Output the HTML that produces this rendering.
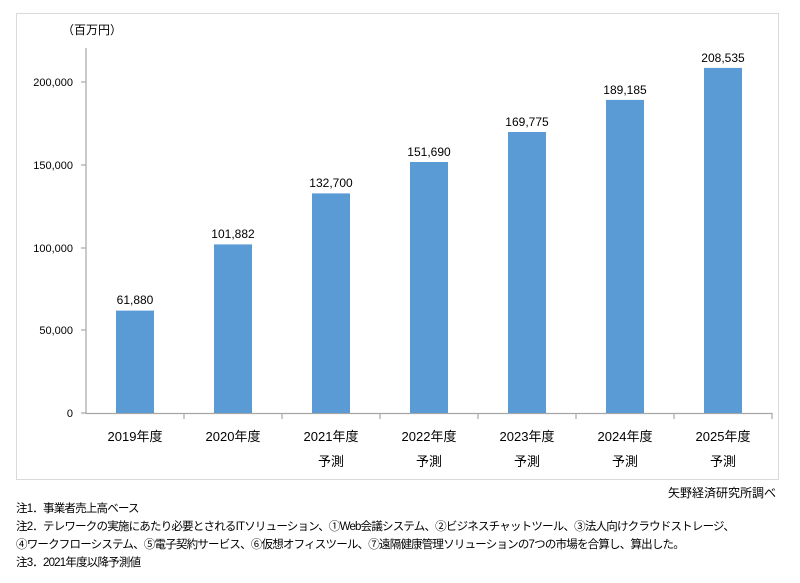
<!DOCTYPE html>
<html><head><meta charset="utf-8"><style>
body{margin:0;width:800px;height:583px;background:#fff;font-family:"Liberation Sans","Noto Sans CJK JP",sans-serif;color:#000;position:relative;overflow:hidden}
.n{position:absolute;left:16px;font-size:11.5px;letter-spacing:-0.8px;line-height:18px;white-space:nowrap}
</style></head><body>
<svg width="800" height="583" style="position:absolute;left:0;top:0" font-family="Liberation Sans, Noto Sans CJK JP, sans-serif">
<rect x="16.5" y="13.5" width="762" height="466" fill="none" stroke="#d9d9d9"/>
<text x="62" y="34" font-size="12">（百万円）</text>
<g stroke="#a6a6a6" stroke-width="1.2">
<line x1="86" y1="48" x2="86" y2="414"/>
<line x1="86" y1="413.5" x2="772" y2="413.5"/>
<line x1="81" y1="82" x2="86" y2="82"/><line x1="81" y1="165" x2="86" y2="165"/><line x1="81" y1="248" x2="86" y2="248"/><line x1="81" y1="330" x2="86" y2="330"/><line x1="81" y1="413" x2="86" y2="413"/>
<line x1="184" y1="413" x2="184" y2="419"/><line x1="282" y1="413" x2="282" y2="419"/><line x1="380" y1="413" x2="380" y2="419"/><line x1="478" y1="413" x2="478" y2="419"/><line x1="576" y1="413" x2="576" y2="419"/><line x1="674" y1="413" x2="674" y2="419"/><line x1="772" y1="413" x2="772" y2="419"/>
</g>
<g font-size="11" text-anchor="end">
<text x="73" y="86">200,000</text><text x="73" y="169">150,000</text><text x="73" y="252">100,000</text><text x="73" y="334">50,000</text><text x="73" y="417">0</text>
</g>
<g fill="#5b9bd5">
<rect x="116" y="310.6" width="38" height="102.4"/>
<rect x="214" y="244.4" width="38" height="168.6"/>
<rect x="312" y="193.4" width="38" height="219.6"/>
<rect x="410" y="162" width="38" height="251"/>
<rect x="508" y="132" width="38" height="281"/>
<rect x="606" y="99.9" width="38" height="313.1"/>
<rect x="704" y="67.9" width="38" height="345.1"/>
</g>
<g font-size="12" text-anchor="middle">
<text x="135" y="304">61,880</text><text x="233" y="238">101,882</text><text x="331" y="187">132,700</text><text x="429" y="156">151,690</text><text x="527" y="126">169,775</text><text x="625" y="94">189,185</text><text x="723" y="62">208,535</text>
</g>
<g font-size="13" text-anchor="middle">
<text x="135" y="441">2019年度</text><text x="233" y="441">2020年度</text><text x="331" y="441">2021年度</text><text x="429" y="441">2022年度</text><text x="527" y="441">2023年度</text><text x="625" y="441">2024年度</text><text x="723" y="441">2025年度</text>
<text x="331" y="466">予測</text><text x="429" y="466">予測</text><text x="527" y="466">予測</text><text x="625" y="466">予測</text><text x="723" y="466">予測</text>
<text x="776" y="497" text-anchor="end" font-size="12">矢野経済研究所調べ</text>
</g>
</svg>
<div class="n" style="top:500px">注1．事業者売上高ベース</div>
<div class="n" style="top:518px">注2．テレワークの実施にあたり必要とされるITソリューション、①Web会議システム、②ビジネスチャットツール、③法人向けクラウドストレージ、</div>
<div class="n" style="top:536px">④ワークフローシステム、⑤電子契約サービス、⑥仮想オフィスツール、⑦遠隔健康管理ソリューションの7つの市場を合算し、算出した。</div>
<div class="n" style="top:554px">注3．2021年度以降予測値</div>
</body></html>
